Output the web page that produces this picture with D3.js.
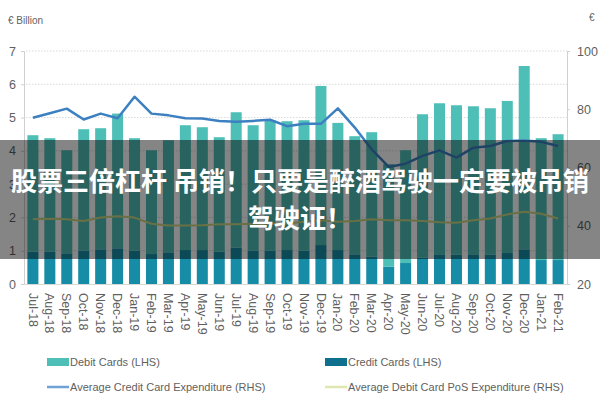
<!DOCTYPE html>
<html>
<head>
<meta charset="utf-8">
<script src="https://cdn.jsdelivr.net/npm/d3@7"></script>
<style>
  html, body { margin: 0; padding: 0; background: #fff; }
  svg { display: block; }
</style>
</head>
<body>
<svg id="chart" width="600" height="400"></svg>
<script>
const categories = ["Jul-18","Aug-18","Sep-18","Oct-18","Nov-18","Dec-18","Jan-19","Feb-19","Mar-19","Apr-19","May-19","Jun-19","Jul-19","Aug-19","Sep-19","Oct-19","Nov-19","Dec-19","Jan-20","Feb-20","Mar-20","Apr-20","May-20","Jun-20","Jul-20","Aug-20","Sep-20","Oct-20","Nov-20","Dec-20","Jan-21","Feb-21"];
const creditCards = [0.97,0.97,0.92,1.00,1.04,1.07,1.00,0.90,0.95,1.02,1.02,0.97,1.09,1.00,1.00,1.02,1.00,1.17,1.02,0.89,0.82,0.52,0.63,0.79,0.89,0.88,0.89,0.88,0.93,1.04,0.72,0.72];
const debitCards = [3.50,3.41,3.10,3.65,3.64,4.05,3.38,3.12,3.37,3.75,3.69,3.44,4.07,3.77,3.92,3.87,3.92,4.78,3.82,3.55,3.74,3.08,3.39,4.31,4.54,4.49,4.45,4.40,4.57,5.51,3.66,3.78];
const avgCreditExp = [77.1,78.6,80.2,76.5,78.5,76.9,84.3,78.5,77.9,76.9,76.8,76.0,75.7,76.0,76.4,74.2,75.0,75.0,80.3,73.7,66.2,60.2,61.3,64.0,65.9,63.4,66.8,67.4,69.1,69.3,68.8,67.4];
const avgDebitPosExp = [42.2,42.4,42.2,41.6,42.8,43.3,42.8,40.7,40.1,40.1,40.2,40.5,40.5,40.7,40.7,40.8,41.4,41.9,41.4,41.6,42.2,41.9,41.9,41.6,41.2,41.0,41.9,42.5,43.9,44.8,44.1,42.5];
const leftTicks = [0,1,2,3,4,5,6,7];
const rightTicks = [20,40,60,80,100];
const legendLabels = ["Debit Cards (LHS)","Credit Cards (LHS)","Average Credit Card Expenditure (RHS)","Average Debit Card PoS Expenditure (RHS)"];
const bannerLines = ["股票三倍杠杆 吊销！只要是醉酒驾驶一定要被吊销","驾驶证！"];

const colDebit = "#4ebfb7", colCredit = "#168ca6", colCreditLine = "#3d80c2", colDebitLine = "#cdd783";
const legendCredit = "#0f6f8e", legendCreditLine = "#6fa3d6", legendDebitLine = "#dfe7b0";
const txt = "#5f5f5f";
const font = "'Liberation Sans', Arial, sans-serif";

const svg = d3.select("#chart");
const L = 24, R = 567, T = 51, B = 284;

const x = d3.scaleBand().domain(categories).range([L, R]).paddingInner(0.35).paddingOuter(0.2);
const yL = d3.scaleLinear().domain([0, 7]).range([B, T]);
const yR = d3.scaleLinear().domain([20, 100]).range([B, T]);

// gridlines
svg.append("g").selectAll("line").data(leftTicks.filter(d => d > 0)).join("line")
  .attr("x1", L + 2).attr("x2", R).attr("y1", d => yL(d)).attr("y2", d => yL(d))
  .attr("stroke", "#d9d9d9").attr("stroke-width", 1).attr("stroke-dasharray", "1.5,1.5");

// left axis
const gL = svg.append("g").attr("transform", `translate(${L},0)`)
  .call(d3.axisLeft(yL).tickValues(leftTicks).tickSize(3).tickFormat(d3.format("d")));
gL.select(".domain").attr("stroke", "#d0d0d0");
gL.selectAll(".tick line").attr("stroke", "#d0d0d0");
gL.selectAll("text").attr("fill", txt).attr("font-family", font).attr("font-size", 12.5).attr("x", -8);

// right axis
const gR = svg.append("g").attr("transform", `translate(${R},0)`)
  .call(d3.axisRight(yR).tickValues(rightTicks).tickSize(3));
gR.select(".domain").attr("stroke", "#d0d0d0");
gR.selectAll(".tick line").attr("stroke", "#d0d0d0");
gR.selectAll("text").attr("fill", txt).attr("font-family", font).attr("font-size", 12.5).attr("x", 10);

// stacked bars
const stackData = categories.map((c, i) => ({cat: c, credit: creditCards[i], debit: debitCards[i]}));
const series = d3.stack().keys(["credit", "debit"])(stackData);
const colors = {credit: colCredit, debit: colDebit};
svg.append("g").selectAll("g").data(series).join("g")
  .attr("fill", d => colors[d.key])
  .selectAll("rect").data(d => d).join("rect")
  .attr("x", d => x(d.data.cat)).attr("width", x.bandwidth())
  .attr("y", d => yL(d[1])).attr("height", d => yL(d[0]) - yL(d[1]));

// bottom axis
const gB = svg.append("g").attr("transform", `translate(0,${B})`)
  .call(d3.axisBottom(x).tickSize(0).tickPadding(0));
gB.select(".domain").attr("stroke", "#d8d8d8");
gB.selectAll("text")
  .attr("fill", txt).attr("font-family", font).attr("font-size", 12.5)
  .attr("text-anchor", "start")
  .attr("transform", "rotate(90)")
  .attr("x", 9).attr("y", 0).attr("dy", "0.35em");

// lines
const cx = c => x(c) + x.bandwidth() / 2;
const lineGen = vals => d3.line().x((d, i) => cx(categories[i])).y(d => yR(d))(vals);
svg.append("path").attr("d", lineGen(avgDebitPosExp)).attr("fill", "none")
  .attr("stroke", colDebitLine).attr("stroke-width", 2).attr("stroke-linejoin", "round");
svg.append("path").attr("d", lineGen(avgCreditExp)).attr("fill", "none")
  .attr("stroke", colCreditLine).attr("stroke-width", 2.5).attr("stroke-linejoin", "round");

// axis titles
svg.append("text").attr("x", 8).attr("y", 24).text("€ Billion")
  .attr("fill", txt).attr("font-family", font).attr("font-size", 10);
svg.append("text").attr("x", 589).attr("y", 21).text("€")
  .attr("fill", txt).attr("font-family", font).attr("font-size", 10);

// legend
const lg = svg.append("g").attr("font-family", font).attr("font-size", 11).attr("fill", txt);
const legendItems = [
  {label: legendLabels[0], type: "rect", color: colDebit, x: 47, y: 362},
  {label: legendLabels[1], type: "rect", color: legendCredit, x: 325, y: 362},
  {label: legendLabels[2], type: "line", color: legendCreditLine, x: 47, y: 387},
  {label: legendLabels[3], type: "line", color: legendDebitLine, x: 325, y: 387}
];
legendItems.forEach(it => {
  if (it.type === "rect") {
    lg.append("rect").attr("x", it.x).attr("y", it.y - 4).attr("width", 22).attr("height", 8).attr("fill", it.color);
  } else {
    lg.append("line").attr("x1", it.x).attr("x2", it.x + 22).attr("y1", it.y).attr("y2", it.y)
      .attr("stroke", it.color).attr("stroke-width", 2.5);
  }
  lg.append("text").attr("x", it.x + 23).attr("y", it.y).attr("dy", "0.35em").text(it.label);
});

// banner overlay
svg.append("rect").attr("x", 0).attr("y", 140).attr("width", 600).attr("height", 119)
  .attr("fill", "#000").attr("fill-opacity", 0.48);
const bt = svg.append("g").attr("font-family", "'Noto Sans CJK SC', sans-serif")
  .attr("font-weight", "bold").attr("font-size", 26).attr("fill", "#fff").attr("text-anchor", "middle");
bt.append("text").attr("x", 300).attr("y", 182).attr("dy", "0.35em").text(bannerLines[0]);
bt.append("text").attr("x", 300).attr("y", 219).attr("dy", "0.35em").text(bannerLines[1]);
</script>
</body>
</html>
